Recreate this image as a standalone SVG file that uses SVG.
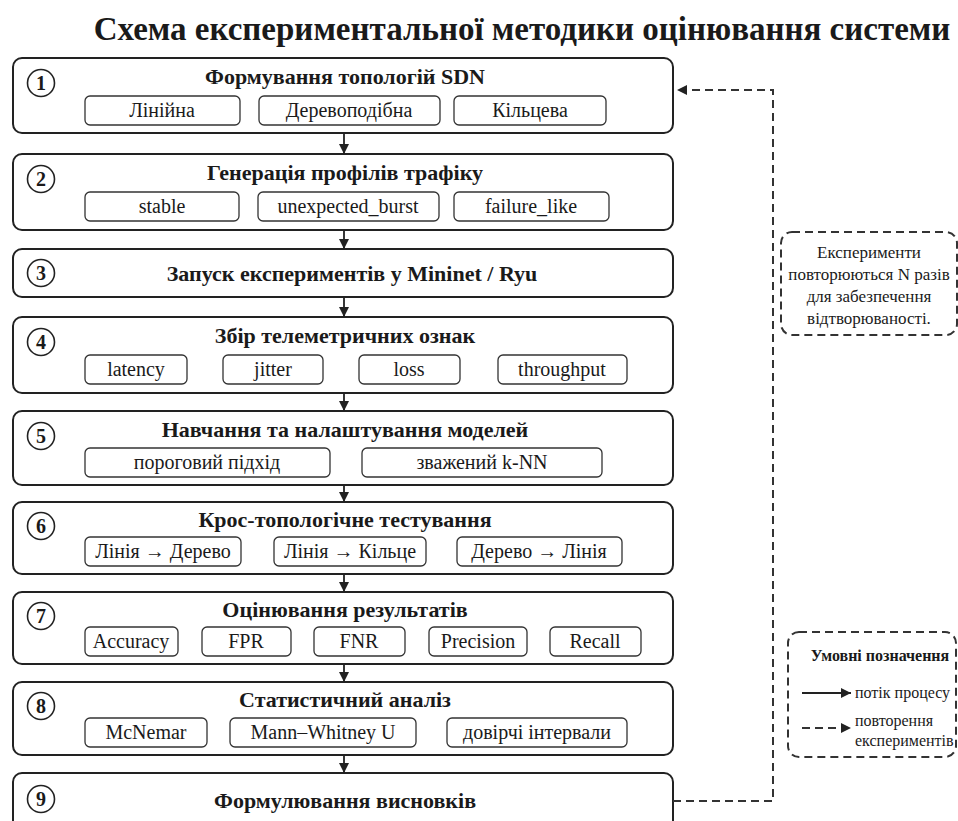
<svg xmlns="http://www.w3.org/2000/svg" width="958" height="821" viewBox="0 0 958 821" font-family="'Liberation Serif', 'Times New Roman', Tinos, 'DejaVu Serif', serif">
<defs>
<style>
text{fill:#1a1a1a}
.ttl{font-size:33px;font-weight:bold;text-anchor:middle}
.box{fill:#fff;stroke:#222;stroke-width:2}
.sub{fill:#fff;stroke:#333;stroke-width:1.3}
.num{fill:#fff;stroke:#222;stroke-width:1.6}
.nt{font-size:20px;font-weight:bold;text-anchor:middle}
.bt{font-size:22px;font-weight:bold;text-anchor:middle}
.st{font-size:20px;text-anchor:middle}
.flow{stroke:#222;stroke-width:1.8;fill:none}
.dash{stroke:#333;stroke-width:2;fill:none;stroke-dasharray:8 5}
.note{font-size:17px;text-anchor:middle}
.lg{font-size:16px}
</style>
<marker id="ah" viewBox="0 0 10 10" refX="10" refY="5" markerWidth="10" markerHeight="10" markerUnits="userSpaceOnUse" orient="auto">
<path d="M0,0 L10,5 L0,10 z" fill="#222"/>
</marker>
</defs>
<rect width="958" height="821" fill="#fff"/>
<text class="ttl" x="522" y="40">Схема експериментальної методики оцінювання системи</text>

<g id="step1">
<rect class="box" x="13" y="58" width="660" height="75" rx="9"/>
<circle class="num" cx="41" cy="83" r="13.5"/><text class="nt" x="41" y="90">1</text>
<text class="bt" x="345" y="84">Формування топологій SDN</text>
<rect class="sub" x="85" y="96" width="155" height="29" rx="5"/><text class="st" x="162" y="117">Лінійна</text>
<rect class="sub" x="259" y="96" width="181" height="29" rx="5"/><text class="st" x="349" y="117">Деревоподібна</text>
<rect class="sub" x="454" y="96" width="152" height="29" rx="5"/><text class="st" x="530" y="117">Кільцева</text>
</g>

<g id="step2">
<rect class="box" x="13" y="154" width="660" height="76" rx="9"/>
<circle class="num" cx="41" cy="179" r="13.5"/><text class="nt" x="41" y="186">2</text>
<text class="bt" x="345" y="180">Генерація профілів трафіку</text>
<rect class="sub" x="85" y="192" width="154" height="29" rx="5"/><text class="st" x="162" y="213">stable</text>
<rect class="sub" x="258" y="192" width="181" height="29" rx="5"/><text class="st" x="348" y="213">unexpected_burst</text>
<rect class="sub" x="454" y="192" width="155" height="29" rx="5"/><text class="st" x="531" y="213">failure_like</text>
</g>

<g id="step3">
<rect class="box" x="13" y="249" width="660" height="48" rx="9"/>
<circle class="num" cx="41" cy="273" r="13.5"/><text class="nt" x="41" y="280">3</text>
<text class="bt" x="352" y="281">Запуск експериментів у Mininet / Ryu</text>
</g>

<g id="step4">
<rect class="box" x="13" y="317" width="660" height="76" rx="9"/>
<circle class="num" cx="41" cy="342" r="13.5"/><text class="nt" x="41" y="349">4</text>
<text class="bt" x="345" y="343">Збір телеметричних ознак</text>
<rect class="sub" x="85" y="355" width="102" height="29" rx="5"/><text class="st" x="136" y="376">latency</text>
<rect class="sub" x="223" y="355" width="100" height="29" rx="5"/><text class="st" x="273" y="376">jitter</text>
<rect class="sub" x="359" y="355" width="101" height="29" rx="5"/><text class="st" x="409" y="376">loss</text>
<rect class="sub" x="498" y="355" width="129" height="29" rx="5"/><text class="st" x="562" y="376">throughput</text>
</g>

<g id="step5">
<rect class="box" x="13" y="411" width="660" height="74" rx="9"/>
<circle class="num" cx="41" cy="436" r="13.5"/><text class="nt" x="41" y="443">5</text>
<text class="bt" x="345" y="437">Навчання та налаштування моделей</text>
<rect class="sub" x="85" y="448" width="245" height="29" rx="5"/><text class="st" x="207" y="469">пороговий підхід</text>
<rect class="sub" x="362" y="448" width="240" height="29" rx="5"/><text class="st" x="482" y="469">зважений k-NN</text>
</g>

<g id="step6">
<rect class="box" x="13" y="502" width="660" height="72" rx="9"/>
<circle class="num" cx="41" cy="526" r="13.5"/><text class="nt" x="41" y="533">6</text>
<text class="bt" x="345" y="527">Крос-топологічне тестування</text>
<rect class="sub" x="85" y="537" width="156" height="29" rx="5"/><text class="st" x="163" y="558">Лінія → Дерево</text>
<rect class="sub" x="274" y="537" width="152" height="29" rx="5"/><text class="st" x="350" y="558">Лінія → Кільце</text>
<rect class="sub" x="457" y="537" width="165" height="29" rx="5"/><text class="st" x="539" y="558">Дерево → Лінія</text>
</g>

<g id="step7">
<rect class="box" x="13" y="592" width="660" height="72" rx="9"/>
<circle class="num" cx="41" cy="616" r="13.5"/><text class="nt" x="41" y="623">7</text>
<text class="bt" x="345" y="617">Оцінювання результатів</text>
<rect class="sub" x="85" y="627" width="93" height="29" rx="5"/><text class="st" x="131" y="648">Accuracy</text>
<rect class="sub" x="202" y="627" width="89" height="29" rx="5"/><text class="st" x="246" y="648">FPR</text>
<rect class="sub" x="314" y="627" width="91" height="29" rx="5"/><text class="st" x="359" y="648">FNR</text>
<rect class="sub" x="429" y="627" width="98" height="29" rx="5"/><text class="st" x="478" y="648">Precision</text>
<rect class="sub" x="550" y="627" width="91" height="29" rx="5"/><text class="st" x="595" y="648">Recall</text>
</g>

<g id="step8">
<rect class="box" x="13" y="682" width="660" height="73" rx="9"/>
<circle class="num" cx="41" cy="706" r="13.5"/><text class="nt" x="41" y="713">8</text>
<text class="bt" x="345" y="707">Статистичний аналіз</text>
<rect class="sub" x="85" y="718" width="122" height="29" rx="5"/><text class="st" x="146" y="739">McNemar</text>
<rect class="sub" x="230" y="718" width="186" height="29" rx="5"/><text class="st" x="323" y="739">Mann–Whitney U</text>
<rect class="sub" x="447" y="718" width="180" height="29" rx="5"/><text class="st" x="537" y="739">довірчі інтервали</text>
</g>

<g id="step9">
<rect class="box" x="13" y="773" width="660" height="70" rx="9"/>
<circle class="num" cx="41" cy="799" r="13.5"/><text class="nt" x="41" y="806">9</text>
<text class="bt" x="345" y="808">Формулювання висновків</text>
</g>

<g id="connectors">
<line class="flow" x1="344" y1="133" x2="344" y2="154" marker-end="url(#ah)"/>
<line class="flow" x1="344" y1="230" x2="344" y2="249" marker-end="url(#ah)"/>
<line class="flow" x1="344" y1="297" x2="344" y2="317" marker-end="url(#ah)"/>
<line class="flow" x1="344" y1="393" x2="344" y2="411" marker-end="url(#ah)"/>
<line class="flow" x1="344" y1="485" x2="344" y2="502" marker-end="url(#ah)"/>
<line class="flow" x1="344" y1="574" x2="344" y2="592" marker-end="url(#ah)"/>
<line class="flow" x1="344" y1="664" x2="344" y2="682" marker-end="url(#ah)"/>
<line class="flow" x1="344" y1="755" x2="344" y2="773" marker-end="url(#ah)"/>
<path class="dash" d="M673,801 H773 V90 H677" marker-end="url(#ah)"/>
</g>

<g id="note">
<rect x="781" y="232" width="176" height="103" rx="11" fill="#fff" stroke="#333" stroke-width="2" stroke-dasharray="8 5"/>
<text class="note" x="869" y="258">Експерименти</text>
<text class="note" x="869" y="280">повторюються N разів</text>
<text class="note" x="869" y="302">для забезпечення</text>
<text class="note" x="869" y="324">відтворюваності.</text>
</g>

<g id="legend">
<rect x="788" y="632" width="168" height="125" rx="11" fill="#fff" stroke="#333" stroke-width="2" stroke-dasharray="8 5"/>
<text class="lg" x="880" y="661" font-weight="bold" text-anchor="middle">Умовні позначення</text>
<line class="flow" x1="802" y1="693" x2="851" y2="693" marker-end="url(#ah)"/>
<text class="lg" x="855" y="698">потік процесу</text>
<line class="dash" x1="802" y1="728" x2="851" y2="728" stroke-dasharray="6 4" marker-end="url(#ah)"/>
<text class="lg" x="855" y="726">повторення</text>
<text class="lg" x="855" y="746">експериментів</text>
</g>
</svg>
